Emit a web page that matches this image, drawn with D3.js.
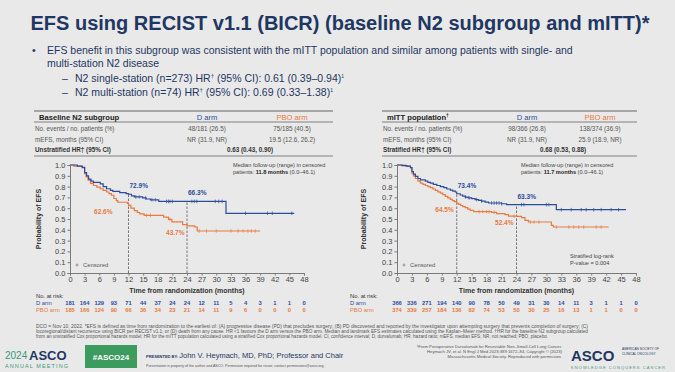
<!DOCTYPE html>
<html>
<head>
<meta charset="utf-8">
<script src="https://cdnjs.cloudflare.com/ajax/libs/d3/7.8.5/d3.min.js"></script>
<style>
  body { margin: 0; background: #e9e9e9; }
  svg { display: block; font-family: "Liberation Sans", Arial, sans-serif; }
  .axis path, .axis line { stroke: #7a7a7a; }
  .axis text { fill: #444; font-size: 7.5px; font-family: "Liberation Sans", Arial, sans-serif; }
</style>
</head>
<body>
<svg id="svg" width="675" height="372"></svg>
<script>
// ---- data ----
var xTicks = [0, 3, 6, 9, 12, 15, 18, 21, 24, 27, 30, 33, 36, 39, 42, 45, 48];
var yTicks = [0, 0.1, 0.2, 0.3, 0.4, 0.5, 0.6, 0.7, 0.8, 0.9, 1.0];
var landmarks = [12, 24];

// baseline N2 subgroup, KM steps [month, survival]
var n2D = [[0,1],[1.5,0.99],[2.5,0.975],[3,0.93],[3.4,0.9],[3.8,0.87],[4.3,0.85],[4.8,0.84],[6.2,0.825],[6.8,0.8],[7.5,0.78],[8.3,0.765],[8.8,0.755],[10.2,0.745],[11.5,0.735],[12,0.729],[12.6,0.715],[13.2,0.705],[14.9,0.695],[15.6,0.685],[16.5,0.678],[18.2,0.663],[32,0.553],[46,0.553]];
var n2P = [[0,1],[0.8,0.99],[2.5,0.98],[3,0.92],[3.3,0.89],[3.7,0.86],[4.2,0.83],[4.8,0.81],[5.5,0.795],[6.2,0.78],[6.8,0.765],[7.5,0.75],[8,0.735],[8.5,0.72],[9,0.69],[9.5,0.67],[9.8,0.655],[11.8,0.645],[12,0.626],[12.5,0.6],[13.2,0.578],[13.8,0.56],[14.3,0.548],[15.2,0.533],[19.2,0.518],[20.2,0.496],[20.9,0.474],[23.1,0.448],[24,0.437],[25.6,0.426],[26.1,0.389],[39,0.389]];
var n2DCens = [13.5,14.2,15.5,16.8,17.5,19.8,20.2,20.5,21,25,25.5,26,29.8,30.5,31.2,36,40.5,41.5,45.5];
var n2PCens = [15.7,16.5,20.5,26.5,28,30,33,34.5,35.5,36.5,37.2,38];
var n2DLm = [72.9, 66.3];
var n2PLm = [62.6, 43.7];
var n2RiskD = [181,164,129,93,71,44,37,24,24,12,11,5,4,3,1,1,0];
var n2RiskP = [185,166,124,90,66,36,34,23,21,14,11,9,6,0,0,0,0];
var n2Table = [
  ["No. events / no. patients (%)", "48/181 (26.5)", "75/185 (40.5)"],
  ["mEFS, months (95% CI)", "NR (31.9, NR)", "19.5 (12.6, 26.2)"]
];
var n2HR = ["Unstratified HR\u2020 (95% CI)", "0.63 (0.43, 0.90)"];

// mITT population
var mittD = [[0,1],[1,0.995],[2,0.99],[2.7,0.975],[3,0.94],[3.3,0.915],[3.7,0.895],[4.2,0.875],[4.7,0.862],[5.7,0.85],[6.2,0.84],[6.7,0.832],[7.3,0.82],[8,0.81],[8.7,0.8],[9.4,0.79],[10,0.778],[10.7,0.768],[11.2,0.758],[11.7,0.75],[12,0.734],[12.7,0.722],[13.2,0.712],[13.7,0.703],[14.3,0.695],[15,0.688],[15.7,0.68],[16.4,0.672],[17,0.665],[17.7,0.657],[18.4,0.648],[21,0.641],[22,0.633],[32,0.586],[46,0.586]];
var mittP = [[0,1],[1.7,0.99],[2.7,0.975],[3,0.925],[3.3,0.9],[3.7,0.875],[4.2,0.85],[4.7,0.833],[5.2,0.82],[5.7,0.81],[6.2,0.8],[6.7,0.79],[7.2,0.778],[7.7,0.765],[8.2,0.752],[8.7,0.74],[9.2,0.725],[9.7,0.71],[10.2,0.695],[10.7,0.682],[11.1,0.67],[11.5,0.66],[12,0.645],[12.4,0.635],[12.8,0.625],[13.2,0.615],[13.7,0.605],[14.2,0.592],[14.7,0.58],[15.4,0.568],[19,0.562],[20,0.55],[21.7,0.54],[22.4,0.527],[24,0.524],[25,0.512],[25.7,0.488],[26.4,0.472],[31,0.441],[31.4,0.426],[42.5,0.426]];
var mittDCens = [13.8,14.5,16,17,19,19.5,20,20.5,21,25,25.5,30,30.5,33,35,37,38,39.5,41,43,44.5];
var mittPCens = [16.5,17.2,18,18.5,19.5,23.5,26.8,27.5,28.5,32,34.5,35.5,36.5,37.5,40,41];
var mittDLm = [73.4, 63.3];
var mittPLm = [64.5, 52.4];
var mittRiskD = [366,336,271,194,140,90,78,50,49,31,30,14,11,3,1,1,0];
var mittRiskP = [374,339,257,184,136,82,74,53,50,30,25,16,13,1,1,0,0];
var mittTable = [
  ["No. events / no. patients (%)", "98/366 (26.8)", "138/374 (36.9)"],
  ["mEFS, months (95% CI)", "NR (31.9, NR)", "25.9 (18.9, NR)"]
];
var mittHR = ["Stratified HR\u2020 (95% CI)", "0.68 (0.53, 0.88)"];

var blue = "#2c4c9c";
var orange = "#eb7a40";
var navy = "#1f3763";

var svg = d3.select("#svg");

// background
svg.append("rect").attr("width", 675).attr("height", 372).attr("fill", "#e9e9e9");

// ---- title and bullets ----
svg.append("text")
    .attr("x", 340).attr("y", 30)
    .attr("text-anchor", "middle")
    .attr("font-size", "20px").attr("font-weight", "bold")
    .attr("fill", navy)
    .text("EFS using RECIST v1.1 (BICR) (baseline N2 subgroup and mITT)*");

var bullets = svg.append("g").attr("fill", navy).attr("font-size", "10.5px");
bullets.append("text").attr("x", 32).attr("y", 54).text("\u2022");
bullets.append("text").attr("x", 47).attr("y", 54)
    .text("EFS benefit in this subgroup was consistent with the mITT population and similar among patients with single- and");
bullets.append("text").attr("x", 47).attr("y", 67).text("multi-station N2 disease");
bullets.append("text").attr("x", 62).attr("y", 82).text("\u2013");
bullets.append("text").attr("x", 75).attr("y", 82)
    .html("N2 single-station (n=273) HR<tspan font-size='6px' dy='-4'>\u2020</tspan><tspan dy='4'> (95% CI): 0.61 (0.39\u20130.94)</tspan><tspan font-size='5px' dy='-4'>1</tspan>");
bullets.append("text").attr("x", 62).attr("y", 96).text("\u2013");
bullets.append("text").attr("x", 75).attr("y", 96)
    .html("N2 multi-station (n=74) HR<tspan font-size='6px' dy='-4'>\u2020</tspan><tspan dy='4'> (95% CI): 0.69 (0.33\u20131.38)</tspan><tspan font-size='5px' dy='-4'>1</tspan>");

function survAt(curve, t) {
    var s = 1;
    curve.forEach(function (p) { if (p[0] <= t) s = p[1]; });
    return s;
}

function drawPanel(cfg) {
    var g = svg.append("g");

    // table
    var tb = g.append("g").attr("font-size", "6.3px");
    [111, 122, 156].forEach(function (yy, i) {
        tb.append("line").attr("x1", cfg.tx0).attr("x2", cfg.tx1).attr("y1", yy).attr("y2", yy)
            .attr("stroke", "#666").attr("stroke-width", i === 0 ? 1.2 : 0.8);
    });
    tb.append("text").attr("x", cfg.tx0 + 5).attr("y", 120).attr("font-size", "7.6px").attr("font-weight", "bold")
        .attr("fill", "#222").html(cfg.header);
    tb.append("text").attr("x", cfg.c1).attr("y", 120).attr("text-anchor", "middle").attr("font-size", "7.6px")
        .attr("fill", blue).text("D arm");
    tb.append("text").attr("x", cfg.c2).attr("y", 120).attr("text-anchor", "middle").attr("font-size", "7.6px")
        .attr("fill", orange).text("PBO arm");
    cfg.table.forEach(function (row, i) {
        var yy = 131 + i * 10.5;
        tb.append("text").attr("x", cfg.tx0 + 1).attr("y", yy).attr("fill", "#555").text(row[0]);
        tb.append("text").attr("x", cfg.c1).attr("y", yy).attr("text-anchor", "middle").attr("fill", "#555").text(row[1]);
        tb.append("text").attr("x", cfg.c2).attr("y", yy).attr("text-anchor", "middle").attr("fill", "#555").text(row[2]);
    });
    tb.append("text").attr("x", cfg.tx0 + 1).attr("y", 152).attr("font-weight", "bold").attr("fill", "#333").text(cfg.hr[0]);
    tb.append("text").attr("x", cfg.hrX).attr("y", 152).attr("text-anchor", "middle").attr("font-weight", "bold")
        .attr("fill", "#333").text(cfg.hr[1]);

    // scales
    var x = d3.scaleLinear().domain([0, 48]).range([cfg.x0, cfg.x1]);
    var y = d3.scaleLinear().domain([0, 1]).range([273, 165]);

    g.append("g").attr("class", "axis").attr("transform", "translate(0,273)")
        .call(d3.axisBottom(x).tickValues(xTicks).tickSize(2.5).tickPadding(1.5).tickFormat(d3.format("d")));
    g.append("g").attr("class", "axis").attr("transform", "translate(" + cfg.x0 + ",0)")
        .call(d3.axisLeft(y).tickValues(yTicks).tickSize(2.5).tickPadding(2).tickFormat(d3.format(".1f")));

    g.append("text")
        .attr("transform", "translate(" + cfg.yTitleX + ",219) rotate(-90)")
        .attr("text-anchor", "middle").attr("font-size", "7px").attr("font-weight", "bold").attr("fill", "#333")
        .text("Probability of EFS");
    g.append("text").attr("x", (cfg.x0 + cfg.x1) / 2).attr("y", 293).attr("text-anchor", "middle")
        .attr("font-size", "7px").attr("font-weight", "bold").attr("fill", "#333")
        .text("Time from randomization (months)");

    // landmark dashed lines
    landmarks.forEach(function (t) {
        g.append("line").attr("x1", x(t)).attr("x2", x(t)).attr("y1", y(0)).attr("y2", y(survAt(cfg.dCurve, t)))
            .attr("stroke", "#555").attr("stroke-width", 0.8).attr("stroke-dasharray", "2.5,1.5");
    });

    var line = d3.line().x(function (d) { return x(d[0]); }).y(function (d) { return y(d[1]); })
        .curve(d3.curveStepAfter);

    [[cfg.pCurve, cfg.pCens, orange], [cfg.dCurve, cfg.dCens, blue]].forEach(function (s) {
        g.append("path").datum(s[0]).attr("d", line).attr("fill", "none")
            .attr("stroke", s[2]).attr("stroke-width", 1.2);
        g.selectAll(null).data(s[1]).enter().append("line")
            .attr("x1", function (t) { return x(t); }).attr("x2", function (t) { return x(t); })
            .attr("y1", function (t) { return y(survAt(s[0], t)) - 1.8; })
            .attr("y2", function (t) { return y(survAt(s[0], t)) + 1.8; })
            .attr("stroke", s[2]).attr("stroke-width", 0.7);
    });

    // landmark labels
    landmarks.forEach(function (t, i) {
        g.append("text").attr("x", x(t) + 1).attr("y", y(cfg.dLm[i] / 100) - 6)
            .attr("font-size", "6.5px").attr("font-weight", "bold").attr("fill", blue)
            .text(cfg.dLm[i].toFixed(1) + "%");
        g.append("text").attr("x", x(t) - cfg.pOff[i]).attr("y", y(cfg.pLm[i] / 100) + 9)
            .attr("text-anchor", "end")
            .attr("font-size", "6.5px").attr("font-weight", "bold").attr("fill", orange)
            .text(cfg.pLm[i].toFixed(1) + "%");
    });

    // follow-up note
    var note = g.append("g").attr("font-size", "5.6px").attr("fill", "#444");
    note.append("text").attr("x", cfg.noteX).attr("y", 167).text("Median follow-up (range) in censored");
    note.append("text").attr("x", cfg.noteX).attr("y", 174)
        .html("patients: <tspan font-weight='bold' fill='#222'>" + cfg.fu + " months</tspan> (0.0\u201346.1)");

    // censored legend
    g.append("line").attr("x1", cfg.x0 + 7).attr("x2", cfg.x0 + 7).attr("y1", 263.5).attr("y2", 266.5)
        .attr("stroke", "#777").attr("stroke-width", 0.7);
    g.append("line").attr("x1", cfg.x0 + 5.5).attr("x2", cfg.x0 + 8.5).attr("y1", 265).attr("y2", 265)
        .attr("stroke", "#777").attr("stroke-width", 0.7);
    g.append("text").attr("x", cfg.x0 + 13).attr("y", 267).attr("font-size", "5.8px").attr("fill", "#555").text("Censored");

    if (cfg.pval) {
        g.append("text").attr("x", 570).attr("y", 258).attr("font-size", "5.6px").attr("fill", "#444").text("Stratified log-rank");
        g.append("text").attr("x", 570).attr("y", 265).attr("font-size", "5.6px").attr("fill", "#444").text("P-value = 0.004");
    }

    // number at risk
    var risk = g.append("g").attr("font-size", "5.8px").attr("font-weight", "bold");
    risk.append("text").attr("x", cfg.riskX).attr("y", 298).attr("fill", "#333").attr("font-weight", "normal").text("No. at risk:");
    risk.append("text").attr("x", cfg.riskX).attr("y", 305).attr("fill", blue).attr("font-weight", "normal").text("D arm");
    risk.append("text").attr("x", cfg.riskX).attr("y", 312).attr("fill", orange).attr("font-weight", "normal").text("PBO arm");
    risk.selectAll(null).data(cfg.riskD).enter().append("text")
        .attr("x", function (d, i) { return x(xTicks[i]); }).attr("y", 305)
        .attr("text-anchor", "middle").attr("fill", blue).text(function (d) { return d; });
    risk.selectAll(null).data(cfg.riskP).enter().append("text")
        .attr("x", function (d, i) { return x(xTicks[i]); }).attr("y", 312)
        .attr("text-anchor", "middle").attr("fill", orange).text(function (d) { return d; });
}

drawPanel({
    x0: 70, x1: 304, tx0: 34, tx1: 333, c1: 207, c2: 292, hrX: 250,
    header: "Baseline N2 subgroup", table: n2Table, hr: n2HR,
    dCurve: n2D, pCurve: n2P, dCens: n2DCens, pCens: n2PCens,
    dLm: n2DLm, pLm: n2PLm, pOff: [16, 2.5],
    riskD: n2RiskD, riskP: n2RiskP, riskX: 36, yTitleX: 41, noteX: 233, fu: "11.8", pval: false
});
drawPanel({
    x0: 397, x1: 636, tx0: 382, tx1: 637, c1: 527, c2: 600, hrX: 563,
    header: "mITT population<tspan font-size='5px' dy='-3'>\u2020</tspan>", table: mittTable, hr: mittHR,
    dCurve: mittD, pCurve: mittP, dCens: mittDCens, pCens: mittPCens,
    dLm: mittDLm, pLm: mittPLm, pOff: [3, 3],
    riskD: mittRiskD, riskP: mittRiskP, riskX: 350, yTitleX: 366, noteX: 521, fu: "11.7", pval: true
});

// ---- footnotes ----
var foot = [
  "DCO = Nov 10, 2022. *EFS is defined as time from randomization to the earliest of: (A) progressive disease (PD) that precludes surgery; (B) PD discovered and reported by the investigator upon attempting surgery that prevents completion of surgery; (C)",
  "locoregional/distant recurrence using BICR per RECIST v1.1; or (D) death from any cause. HR <1 favours the D arm versus the PBO arm. Median and landmark EFS estimates calculated using the Kaplan\u2013Meier method. \u2020HR for the baseline N2 subgroup calculated",
  "from an unstratified Cox proportional hazards model; HR for the mITT population calculated using a stratified Cox proportional hazards model. CI, confidence interval; D, durvalumab; HR, hazard ratio; mEFS, median EFS; NR, not reached; PBO, placebo."
];
var footLen = [552, 552, 512];
svg.append("g").attr("font-size", "4.6px").attr("fill", "#555")
    .selectAll("text").data(foot).enter().append("text")
    .attr("x", 36).attr("y", function (d, i) { return 328 + i * 5; })
    .attr("textLength", function (d, i) { return footLen[i]; })
    .attr("lengthAdjust", "spacingAndGlyphs")
    .text(function (d) { return d; });

// ---- footer bar ----
var ft = svg.append("g");
ft.append("text").attr("x", 5).attr("y", 359).attr("font-size", "10px").attr("fill", "#3a9a7a").text("2024");
ft.append("text").attr("x", 29).attr("y", 360).attr("font-size", "13px").attr("font-weight", "bold").attr("fill", navy).text("ASCO");
ft.append("text").attr("x", 5).attr("y", 368).attr("font-size", "5.5px").attr("fill", "#3a9a7a").attr("textLength", 63).text("ANNUAL MEETING");
ft.append("rect").attr("x", 85).attr("y", 345).attr("width", 52).attr("height", 23).attr("fill", "#3c9b5f");
ft.append("text").attr("x", 111).attr("y", 360).attr("text-anchor", "middle").attr("font-size", "8px").attr("font-weight", "bold")
    .attr("fill", "#fff").text("#ASCO24");
ft.append("text").attr("x", 146).attr("y", 358).attr("font-size", "7.5px").attr("fill", navy)
    .html("<tspan font-size='4px' font-weight='bold'>PRESENTED BY: </tspan>John V. Heymach, MD, PhD; Professor and Chair");
ft.append("text").attr("x", 146).attr("y", 367).attr("font-size", "3.6px").attr("fill", "#555")
    .text("Presentation is property of the author and ASCO. Permission required for reuse; contact permissions@asco.org.");
var ref = ["\u00B9From Perioperative Durvalumab for Resectable Non\u2013Small-Cell Lung Cancer.",
           "Heymach JV, et al. N Engl J Med 2023;389:1672\u201384. Copyright \u00A9 (2023)",
           "Massachusetts Medical Society. Reproduced with permission."];
ft.append("g").attr("font-size", "4.2px").attr("fill", "#555").attr("text-anchor", "end")
    .selectAll("text").data(ref).enter().append("text")
    .attr("x", 562).attr("y", function (d, i) { return 348 + i * 5; }).text(function (d) { return d; });
ft.append("text").attr("x", 571).attr("y", 361).attr("font-size", "15px").attr("font-weight", "bold").attr("fill", navy).text("ASCO");
ft.append("text").attr("x", 622).attr("y", 350).attr("font-size", "3.2px").attr("fill", navy).text("AMERICAN SOCIETY OF");
ft.append("text").attr("x", 622).attr("y", 355).attr("font-size", "3.2px").attr("fill", navy).text("CLINICAL ONCOLOGY");
ft.append("text").attr("x", 571).attr("y", 369).attr("font-size", "4px").attr("fill", "#3a9a7a").attr("textLength", 94).text("KNOWLEDGE CONQUERS CANCER");
</script>
</body>
</html>
